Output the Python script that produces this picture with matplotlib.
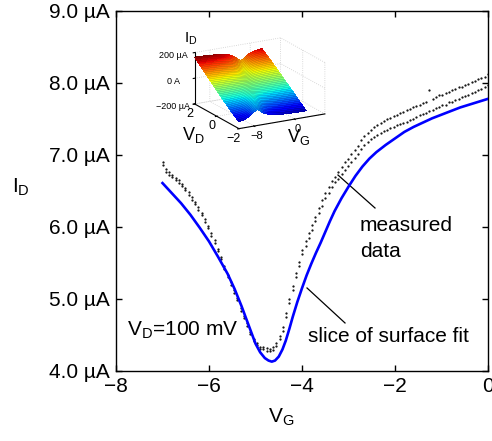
import numpy as np
import matplotlib.pyplot as plt

plt.rcParams['font.family'] = 'Liberation Sans'
plt.rcParams['mathtext.fontset'] = 'custom'
plt.rcParams['mathtext.rm'] = 'Liberation Sans'
plt.rcParams['mathtext.it'] = 'Liberation Sans'

# surface-fit slice at V_D = 100 mV (uA vs gate volts)
vg_fit = [-7.0, -6.8, -6.6, -6.4, -6.2, -6.0, -5.8, -5.6, -5.45, -5.3, -5.15,
          -5.0, -4.9, -4.8, -4.72, -4.65, -4.58, -4.5, -4.42, -4.35, -4.27,
          -4.2, -4.1, -4.0, -3.9, -3.8, -3.7, -3.6, -3.5, -3.4, -3.3, -3.15,
          -3.0, -2.85, -2.7, -2.55, -2.4, -2.2, -2.0, -1.8, -1.6, -1.4, -1.2,
          -1.0, -0.8, -0.6, -0.4, -0.2, 0.0]
id_fit = [6.61, 6.47, 6.33, 6.17, 5.99, 5.80, 5.58, 5.35, 5.14, 4.90, 4.64,
          4.38, 4.26, 4.18, 4.145, 4.13, 4.145, 4.20, 4.30, 4.42, 4.59,
          4.75, 4.96, 5.15, 5.33, 5.49, 5.64, 5.78, 5.93, 6.08, 6.22, 6.40,
          6.56, 6.71, 6.84, 6.95, 7.04, 7.14, 7.23, 7.32, 7.39, 7.45, 7.51,
          7.56, 7.61, 7.66, 7.70, 7.74, 7.78]

# measured gate sweeps (up and down), -7 V .. 0 V
vg_meas = np.linspace(-7.0, 0.0, 101)
id_sweep_up = [6.90, 6.80, 6.76, 6.72, 6.68, 6.65, 6.60, 6.54, 6.48, 6.41,
               6.35, 6.28, 6.19, 6.11, 6.02, 5.91, 5.82, 5.70, 5.59, 5.46,
               5.33, 5.23, 5.12, 5.01, 4.88, 4.77, 4.66, 4.54, 4.45, 4.39,
               4.34, 4.33, 4.32, 4.31, 4.34, 4.39, 4.49, 4.61, 4.80, 5.00,
               5.18, 5.36, 5.52, 5.68, 5.80, 5.92, 6.03, 6.14, 6.26, 6.37,
               6.47, 6.55, 6.64, 6.70, 6.76, 6.83, 6.90, 6.94, 7.01, 7.07,
               7.13, 7.21, 7.26, 7.31, 7.35, 7.39, 7.42, 7.45, 7.47, 7.50,
               7.52, 7.54, 7.56, 7.58, 7.60, 7.62, 7.64, 7.66, 7.68, 7.70,
               7.72, 7.74, 7.90, 7.78, 7.80, 7.83, 7.84, 7.86, 7.88, 7.90,
               7.91, 7.94, 7.95, 7.97, 7.99, 8.02, 8.03, 8.05, 8.07, 8.09,
               8.13]
id_sweep_down = [6.86, 6.77, 6.72, 6.69, 6.65, 6.61, 6.57, 6.51, 6.44, 6.38,
                 6.32, 6.24, 6.16, 6.07, 5.99, 5.88, 5.78, 5.67, 5.56, 5.42,
                 5.30, 5.19, 5.09, 4.98, 4.84, 4.74, 4.62, 4.51, 4.41, 4.36,
                 4.31, 4.30, 4.28, 4.28, 4.29, 4.35, 4.45, 4.56, 4.75, 4.95,
                 5.12, 5.30, 5.46, 5.62, 5.74, 5.85, 5.96, 6.08, 6.19, 6.29,
                 6.40, 6.47, 6.55, 6.62, 6.67, 6.74, 6.79, 6.85, 6.90, 6.96,
                 7.02, 7.08, 7.14, 7.18, 7.22, 7.25, 7.28, 7.31, 7.33, 7.35,
                 7.37, 7.39, 7.41, 7.43, 7.45, 7.46, 7.49, 7.50, 7.53, 7.55,
                 7.57, 7.58, 7.61, 7.62, 7.65, 7.66, 7.69, 7.70, 7.73, 7.74,
                 7.76, 7.78, 7.80, 7.82, 7.84, 7.86, 7.88, 7.90, 7.92, 7.94,
                 7.97]

y_ticks = [4.0, 5.0, 6.0, 7.0, 8.0, 9.0]
y_ticklabels = ['4.0 µA', '5.0 µA', '6.0 µA', '7.0 µA', '8.0 µA', '9.0 µA']
x_ticks = [-8, -6, -4, -2, 0]

# inset: conductance profile (uA/V) used for the I_D(V_G, V_D) surface
inset_gate = [-14, -11, -9, -7, -6, -5.2, -4.6, -4.0, -3.2, -2, 0, 2, 6, 10]
inset_cond = [82, 80, 76, 68, 58, 45, 38, 46, 58, 66, 72, 74, 76, 78]
inset_vg = np.linspace(-11, 2.3, 48)
inset_vd = np.linspace(-2, 2, 41)
dirac_shift = 1.4

fig = plt.figure(figsize=(4.92, 4.41), dpi=100)
ax = fig.add_axes([116 / 492, 70 / 441, 372 / 492, 360 / 441])

for sweep in (id_sweep_up, id_sweep_down):
    ax.plot(vg_meas, sweep, linestyle='none', marker='.', markersize=1.15,
            color='k', zorder=2)
ax.plot(vg_fit, id_fit, color=(0, 0, 1), linewidth=1.9, zorder=3)

ax.set_xlim(-8, 0)
ax.set_ylim(4, 9)
ax.set_xticks(x_ticks)
ax.set_yticks(y_ticks, y_ticklabels)
ax.tick_params(direction='in', length=4, width=1, top=True, right=True,
               labelsize=15, pad=4.3)
for sp in ax.spines.values():
    sp.set_linewidth(1.0)

ax.set_xlabel(r'$\mathregular{V_G}$', fontsize=15, ha='left', va='baseline')
ax.xaxis.set_label_coords(0.4086, -0.1444)
ax.set_ylabel(r'$\mathregular{I_D}$', fontsize=15, rotation=0,
              ha='left', va='baseline')
ax.yaxis.set_label_coords(-0.2796, 0.4944)

ax.text(-7.763, 4.486, r'$\mathregular{V_D}$=100 mV', fontsize=15)
ax.text(-2.753, 5.944, 'measured', fontsize=15)
ax.text(-2.753, 5.583, 'data', fontsize=15)
ax.text(-3.871, 4.403, 'slice of surface fit', fontsize=15)
ax.plot([-3.226, -2.430], [6.722, 6.264], color='k', linewidth=0.9)
ax.plot([-3.892, -3.075], [5.153, 4.667], color='k', linewidth=0.9)

# 3D inset with the full fitted surface
VG, VD = np.meshgrid(inset_vg, inset_vd)
Z = VD * np.interp(VG - dirac_shift * VD, inset_gate, inset_cond)
zmax = np.abs(Z).max()

ax3 = fig.add_axes([168 / 492, 1 - 150 / 441, 180 / 492, 130 / 441],
                   projection='3d', proj_type='ortho', computed_zorder=False)
ax3.patch.set_alpha(0)
ax3.view_init(elev=18, azim=-119)
ax3.set_box_aspect((1, 0.93, 0.55), zoom=1.08)
ax3.plot_surface(VG, VD, Z, cmap='jet', vmin=-zmax, vmax=zmax,
                 rstride=1, cstride=1, linewidth=0, antialiased=False,
                 shade=False)
for i in range(len(inset_vd)):
    ax3.plot(VG[i], VD[i], Z[i], color='k', linewidth=0.25, alpha=0.35)

ax3.set_xlim(-11, 6)
ax3.set_ylim(-2, 2)
ax3.set_zlim(-200, 200)
ax3.set_xticks([-8, 0])
ax3.set_yticks([-2, 0, 2])
ax3.set_zticks([-200, 0, 200], ['\u2212200 µA', '0 A', '200 µA'])
ax3.tick_params(axis='x', labelsize=8, pad=-5)
ax3.tick_params(axis='y', labelsize=9, pad=-5)
ax3.tick_params(axis='z', labelsize=6.5, pad=0)
for axis in (ax3.xaxis, ax3.yaxis, ax3.zaxis):
    axis.set_pane_color((1, 1, 1, 0))
    axis.pane.set_edgecolor((0.75, 0.75, 0.75))
    axis.pane.set_linestyle(':')
    axis._axinfo['grid'].update(color=(0.8, 0.8, 0.8), linestyle=':',
                                linewidth=0.6)
    axis.line.set_linewidth(0.8)

fig.text(184 / 492, 1 - 43 / 441, r'$\mathregular{I_D}$', fontsize=11)
fig.text(182 / 492, 1 - 140 / 441, r'$\mathregular{V_D}$', fontsize=13)
fig.text(287 / 492, 1 - 142 / 441, r'$\mathregular{V_G}$', fontsize=13)

fig.savefig('out.png', dpi=100)
